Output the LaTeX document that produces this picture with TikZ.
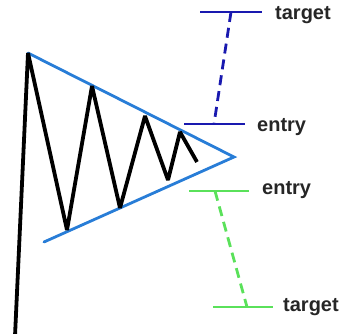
\documentclass[tikz,border=0pt]{standalone}
\usepackage{fontspec}
\setmainfont{Liberation Sans}
\definecolor{trendblue}{RGB}{40,125,215}
\definecolor{navybar}{RGB}{25,25,175}
\definecolor{greenbar}{RGB}{90,225,90}
\tikzset{
  price/.style={draw=black, line width=3.8pt, line join=bevel},
  trend/.style={draw=trendblue, line width=2.8pt, line cap=round},
  barline/.style={line width=2.8pt},
  dashline/.style={line width=2.8pt, dash pattern=on 10pt off 6pt},
  lbl/.style={font=\fontsize{20}{20}\selectfont\bfseries, text=black!85, anchor=west, inner sep=0pt}
}
\begin{document}
\begin{tikzpicture}[x=1pt,y=-1pt]
\useasboundingbox (0,0) rectangle (346,334);
% price path
\coordinate (p0) at (15,336);
\coordinate (p1) at (28,53);
\coordinate (p2) at (67,230);
\coordinate (p3) at (92,86);
\coordinate (p4) at (120,208);
\coordinate (p5) at (145,116);
\coordinate (p6) at (168,180);
\coordinate (p7) at (180,132);
\coordinate (p8) at (197,162);
\coordinate (apex) at (234,157);
\coordinate (lowstart) at (44,242);
% trend lines
\draw[trend] (p1) -- (apex) -- (lowstart);
\draw[price] (p0) -- (p1) -- (p2) -- (p3) -- (p4) -- (p5) -- (p6) -- (p7) -- (p8);
% blue bars
\coordinate (bt1) at (200,12); \coordinate (bt2) at (262,12);
\coordinate (be1) at (184,124); \coordinate (be2) at (245,124);
\coordinate (btm) at (231,12); \coordinate (bem) at (214,124);
\draw[navybar, barline] (bt1) -- (bt2);
\draw[navybar, barline] (be1) -- (be2);
\draw[navybar, dashline] (btm) -- (bem);
% green bars
\coordinate (ge1) at (189,191); \coordinate (ge2) at (249,191);
\coordinate (gt1) at (213,307); \coordinate (gt2) at (273,307);
\coordinate (gem) at (215,191); \coordinate (gtm) at (247,307);
\draw[greenbar, barline] (ge1) -- (ge2);
\draw[greenbar, barline] (gt1) -- (gt2);
\draw[greenbar, dashline] (gem) -- (gtm);
% labels
\node[lbl] (lt1) at (275,15) {target};
\node[lbl] (le1) at (257,127) {entry};
\node[lbl] (le2) at (262,190) {entry};
\node[lbl] (lt2) at (283,307) {target};
\end{tikzpicture}
\end{document}
